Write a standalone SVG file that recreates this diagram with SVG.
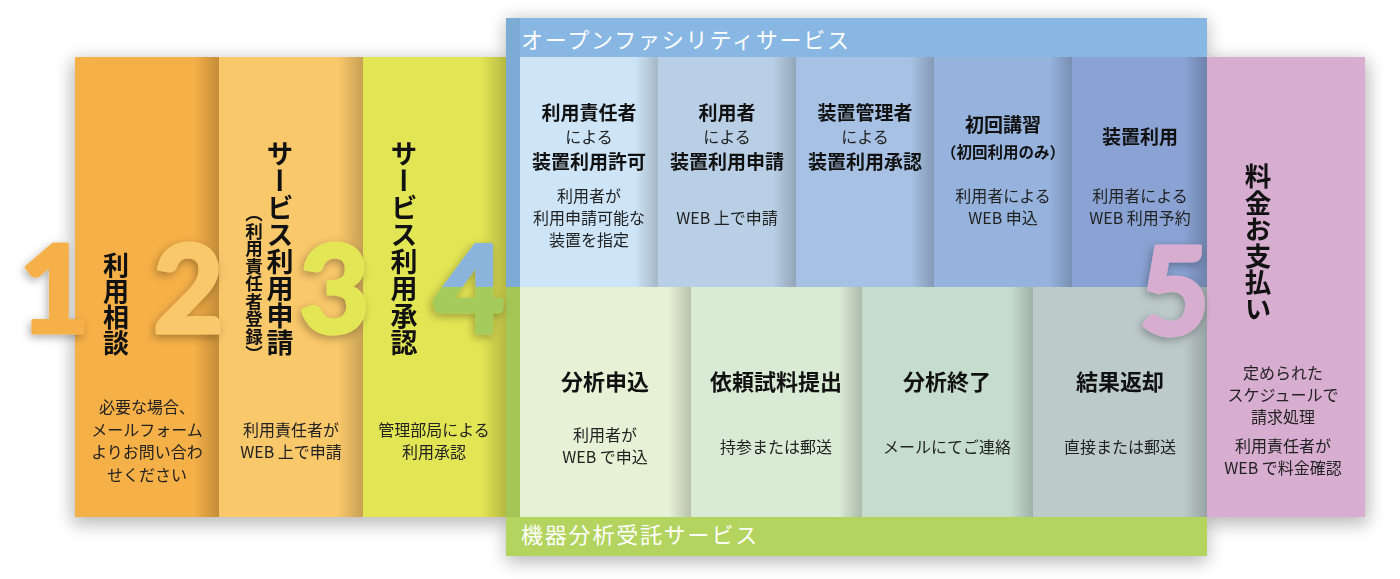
<svg xmlns="http://www.w3.org/2000/svg" width="1400" height="579" viewBox="0 0 1400 579">
<style>
.t{font-family:"Noto Sans CJK JP","Noto Sans",sans-serif;fill:#111;text-anchor:middle}
.b{font-weight:700;font-size:19px}
.bb{font-weight:700;font-size:22px}
.d{font-size:16px;fill:#222}
.v{font-family:"Noto Sans CJK JP","Noto Sans",sans-serif;font-weight:700;writing-mode:vertical-rl;fill:#111}
.num{font-family:Lato,"Open Sans",sans-serif;font-weight:900;font-size:122px;stroke-width:3px;stroke-linejoin:round}
.lab{font-family:"Noto Sans CJK JP","Noto Sans",sans-serif;font-size:22px;fill:#fff;letter-spacing:1.8px}
</style>
<defs>
<linearGradient id="rs" x1="0" x2="1" y1="0" y2="0">
<stop offset="0" stop-color="#000" stop-opacity="0"/>
<stop offset="1" stop-color="#000" stop-opacity="0.2"/>
</linearGradient>
<filter id="blur" x="-10%" y="-10%" width="120%" height="130%"><feGaussianBlur stdDeviation="9"/></filter>
<filter id="ds" x="-30%" y="-30%" width="160%" height="160%"><feDropShadow dx="-2" dy="3" stdDeviation="4" flood-color="#000" flood-opacity="0.3"/></filter>
<clipPath id="top4"><rect x="400" y="200" width="120" height="87"/></clipPath>
<clipPath id="bot4"><rect x="400" y="287" width="120" height="100"/></clipPath>
</defs>

<g id="shadow" filter="url(#blur)" fill="#000" opacity="0.28">
<rect x="72" y="60" width="1296" height="464"/>
<rect x="506" y="20" width="701" height="542"/>
</g>

<g id="col1">
<rect x="75" y="57" width="144" height="460" fill="#f5b048"/>
<rect x="194" y="57" width="25" height="460" fill="url(#rs)"/>
</g>
<g id="col2">
<rect x="219" y="57" width="144" height="460" fill="#f9c86a"/>
<rect x="338" y="57" width="25" height="460" fill="url(#rs)"/>
</g>
<g id="col3">
<rect x="363" y="57" width="143" height="460" fill="#e3e654"/>
<rect x="481" y="57" width="25" height="460" fill="url(#rs)"/>
</g>

<g id="frame-open">
<rect x="506" y="18" width="701" height="269" fill="#87b7e2"/>
<rect x="506" y="18" width="14" height="269" fill="#7cabd6"/>
<text class="lab" x="521" y="48">オープンファシリティサービス</text>
</g>
<g id="frame-analysis">
<rect x="506" y="287" width="701" height="269" fill="#b3d45f"/>
<rect x="506" y="287" width="14" height="230" fill="#a5c657"/>
<text class="lab" x="521" y="543">機器分析受託サービス</text>
</g>

<g id="col5">
<rect x="1207" y="57" width="158" height="460" fill="#d7add0"/>
</g>

<g id="open-1">
<rect x="520" y="57" width="138" height="230" fill="#cde5f7"/>
<rect x="635" y="57" width="23" height="230" fill="url(#rs)"/>
</g>
<g id="open-2">
<rect x="658" y="57" width="138" height="230" fill="#b8cfe6"/>
<rect x="773" y="57" width="23" height="230" fill="url(#rs)"/>
</g>
<g id="open-3">
<rect x="796" y="57" width="138" height="230" fill="#a6c1e3"/>
<rect x="911" y="57" width="23" height="230" fill="url(#rs)"/>
</g>
<g id="open-4">
<rect x="934" y="57" width="138" height="230" fill="#96b3de"/>
<rect x="1049" y="57" width="23" height="230" fill="url(#rs)"/>
</g>
<g id="open-5">
<rect x="1072" y="57" width="135" height="230" fill="#8aa3d4"/>
<rect x="1184" y="57" width="23" height="230" fill="url(#rs)"/>
</g>

<g id="ana-1">
<rect x="520" y="287" width="171" height="230" fill="#e7f1d6"/>
<rect x="668" y="287" width="23" height="230" fill="url(#rs)"/>
</g>
<g id="ana-2">
<rect x="691" y="287" width="171" height="230" fill="#d9ead5"/>
<rect x="839" y="287" width="23" height="230" fill="url(#rs)"/>
</g>
<g id="ana-3">
<rect x="862" y="287" width="171" height="230" fill="#c6ddce"/>
<rect x="1010" y="287" width="23" height="230" fill="url(#rs)"/>
</g>
<g id="ana-4">
<rect x="1033" y="287" width="174" height="230" fill="#bdcaca"/>
<rect x="1184" y="287" width="23" height="230" fill="url(#rs)"/>
</g>

<g id="numbers" filter="url(#ds)">
<text class="num" x="19" y="333" fill="#f5b048" stroke="#f5b048">1</text>
<text class="num" x="153" y="333" fill="#f9c86a" stroke="#f9c86a">2</text>
<text class="num" x="299" y="333" fill="#e3e654" stroke="#e3e654">3</text>
<g>
<text class="num" x="434" y="333" fill="#8ab4dc" stroke="#8ab4dc" clip-path="url(#top4)">4</text>
<text class="num" x="434" y="333" fill="#a5cb5c" stroke="#a5cb5c" clip-path="url(#bot4)">4</text>
</g>
<text class="num" x="1139" y="335" fill="#d7add0" stroke="#d7add0">5</text>
</g>

<g id="text-col1">
<text class="v" x="116" y="252" font-size="26px">利用相談</text>
<text class="t d" x="147" y="413">必要な場合、</text>
<text class="t d" x="147" y="436">メールフォーム</text>
<text class="t d" x="147" y="458">よりお問い合わ</text>
<text class="t d" x="147" y="481">せください</text>
</g>
<g id="text-col2">
<text class="v" x="280" y="140" font-size="27px">サービス利用申請</text>
<text class="v" x="254" y="205" font-size="17.5px">（利用責任者登録）</text>
<text class="t d" x="291" y="436">利用責任者が</text>
<text class="t d" x="291" y="458">WEB 上で申請</text>
</g>
<g id="text-col3">
<text class="v" x="404" y="140" font-size="27px">サービス利用承認</text>
<text class="t d" x="434" y="436">管理部局による</text>
<text class="t d" x="434" y="458">利用承認</text>
</g>

<g id="text-open">
<text class="t b" x="589" y="120">利用責任者</text>
<text class="t d" x="589" y="143">による</text>
<text class="t b" x="589" y="169">装置利用許可</text>
<text class="t d" x="589" y="202">利用者が</text>
<text class="t d" x="589" y="224">利用申請可能な</text>
<text class="t d" x="589" y="246">装置を指定</text>

<text class="t b" x="727" y="120">利用者</text>
<text class="t d" x="727" y="143">による</text>
<text class="t b" x="727" y="169">装置利用申請</text>
<text class="t d" x="727" y="224">WEB 上で申請</text>

<text class="t b" x="865" y="120">装置管理者</text>
<text class="t d" x="865" y="143">による</text>
<text class="t b" x="865" y="169">装置利用承認</text>

<text class="t b" x="1003" y="132">初回講習</text>
<text class="t" x="1003" y="158" font-weight="700" font-size="15.5px">（初回利用のみ）</text>
<text class="t d" x="1003" y="202">利用者による</text>
<text class="t d" x="1003" y="224">WEB 申込</text>

<text class="t b" x="1140" y="144">装置利用</text>
<text class="t d" x="1140" y="202">利用者による</text>
<text class="t d" x="1140" y="224">WEB 利用予約</text>
</g>

<g id="text-analysis">
<text class="t bb" x="605" y="390">分析申込</text>
<text class="t d" x="605" y="441">利用者が</text>
<text class="t d" x="605" y="463">WEB で申込</text>

<text class="t bb" x="776" y="390">依頼試料提出</text>
<text class="t d" x="776" y="453">持参または郵送</text>

<text class="t bb" x="947" y="390">分析終了</text>
<text class="t d" x="947" y="453">メールにてご連絡</text>

<text class="t bb" x="1120" y="390">結果返却</text>
<text class="t d" x="1120" y="453">直接または郵送</text>
</g>

<g id="text-col5">
<text class="v" x="1258" y="163" font-size="26.5px">料金お支払い</text>
<text class="t d" x="1283" y="379">定められた</text>
<text class="t d" x="1283" y="401">スケジュールで</text>
<text class="t d" x="1283" y="423">請求処理</text>
<text class="t d" x="1283" y="452">利用責任者が</text>
<text class="t d" x="1283" y="474">WEB で料金確認</text>
</g>
</svg>
